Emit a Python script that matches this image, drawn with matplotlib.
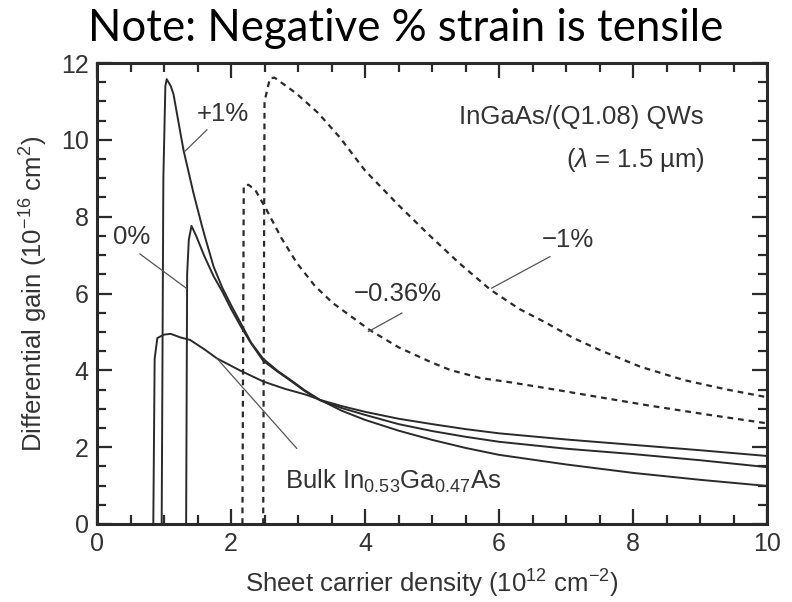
import matplotlib
matplotlib.use('Agg')
import matplotlib.pyplot as plt
from matplotlib.ticker import MultipleLocator

plt.rcParams['font.family'] = ['Liberation Sans', 'DejaVu Sans']
plt.rcParams['mathtext.fontset'] = 'custom'
plt.rcParams['mathtext.rm'] = 'Liberation Sans'
plt.rcParams['mathtext.it'] = 'Liberation Sans:italic'
plt.rcParams['mathtext.default'] = 'regular'

# curves (x: 1e12 cm^-2, y: 1e-16 cm^2)
plus1_x = [0.965, 0.99, 1.02, 1.04, 1.1, 1.14, 1.29, 1.44, 1.56, 1.61, 1.74, 1.87, 2.0, 2.16, 2.3, 2.48, 2.7, 2.88, 3.1, 3.33, 3.65, 4.0, 4.5, 5.0, 5.5, 6.0, 7.0, 8.0, 9.0, 10.0]
plus1_y = [0.0, 9.0, 11.4, 11.58, 11.4, 11.2, 9.74, 8.61, 7.8, 7.48, 6.7, 6.15, 5.7, 5.18, 4.72, 4.3, 3.98, 3.76, 3.48, 3.23, 2.95, 2.71, 2.43, 2.19, 1.98, 1.80, 1.55, 1.33, 1.15, 0.99]

zero_x = [1.33, 1.345, 1.37, 1.41, 1.48, 1.6, 1.74, 1.87, 2.0, 2.16, 2.3, 2.48, 2.7, 2.88, 3.1, 3.33, 3.65, 4.0, 4.5, 5.0, 5.5, 6.0, 7.0, 8.0, 9.0, 10.0]
zero_y = [0.0, 6.5, 7.4, 7.76, 7.5, 6.98, 6.45, 6.05, 5.6, 5.1, 4.7, 4.25, 3.96, 3.74, 3.46, 3.22, 3.02, 2.84, 2.6, 2.42, 2.27, 2.14, 1.96, 1.82, 1.66, 1.48]

bulk_x = [0.84, 0.86, 0.9, 1.0, 1.1, 1.24, 1.39, 1.6, 1.79, 2.13, 2.48, 2.8, 3.13, 3.33, 3.65, 4.0, 4.5, 5.0, 5.5, 6.0, 7.0, 8.0, 9.0, 10.0]
bulk_y = [0.0, 4.3, 4.84, 4.93, 4.95, 4.86, 4.79, 4.55, 4.31, 4.0, 3.71, 3.52, 3.36, 3.23, 3.07, 2.92, 2.74, 2.6, 2.47, 2.36, 2.2, 2.06, 1.92, 1.77]

m036_x = [2.17, 2.19, 2.26, 2.36, 2.53, 2.75, 2.98, 3.25, 3.52, 4.07, 4.5, 5.0, 5.27, 5.72, 6.2, 6.76, 7.5, 8.25, 9.1, 10.0]
m036_y = [0.0, 8.8, 8.83, 8.7, 8.18, 7.45, 6.8, 6.2, 5.75, 5.05, 4.6, 4.2, 4.01, 3.8, 3.68, 3.52, 3.3, 3.08, 2.85, 2.62]

m1_x = [2.48, 2.5, 2.58, 2.65, 2.98, 3.3, 3.63, 4.0, 4.5, 4.97, 5.4, 5.87, 6.3, 6.71, 7.1, 7.5, 8.1, 8.75, 9.4, 10.0]
m1_y = [0.0, 11.0, 11.6, 11.62, 11.2, 10.7, 10.05, 9.2, 8.3, 7.5, 6.8, 6.1, 5.6, 5.23, 4.85, 4.53, 4.1, 3.75, 3.5, 3.3]

ink = '#2a2a2a'
txt = '#333333'

fig = plt.figure(figsize=(7.92, 6.02), dpi=100)
ax = fig.add_axes([0.1225, 0.1296, 0.846, 0.7657])

for xs, ys in [(plus1_x, plus1_y), (zero_x, zero_y), (bulk_x, bulk_y)]:
    ax.plot(xs, ys, color=ink, lw=1.4)
for xs, ys in [(m036_x, m036_y), (m1_x, m1_y)]:
    ax.plot(xs, ys, color=ink, lw=1.6, linestyle=(0, (2.6, 2.2)))

# labels with leader lines
fs = 18.5
lead = dict(color='#555555', lw=0.9)
ax.plot([1.64, 1.31], [10.26, 9.70], **lead)
ax.text(1.88, 10.68, '+1%', fontsize=fs, color=txt, ha='center', va='center')
ax.plot([0.64, 1.33], [7.03, 6.14], **lead)
ax.text(0.52, 7.47, '0%', fontsize=fs, color=txt, ha='center', va='center')
ax.plot([4.55, 4.05], [5.49, 5.01], **lead)
ax.text(4.49, 6.0, '\u22120.36%', fontsize=fs, color=txt, ha='center', va='center')
ax.plot([6.76, 5.89], [6.96, 6.14], **lead)
ax.text(7.03, 7.40, '\u22121%', fontsize=fs, color=txt, ha='center', va='center')
ax.plot([2.98, 1.79], [1.97, 4.31], **lead)
ax.text(2.81, 1.1, r'Bulk In$_{0.53}$Ga$_{0.47}$As', fontsize=fs, color=txt, ha='left', va='center')

ax.text(9.05, 10.6, 'InGaAs/(Q1.08) QWs', fontsize=fs, color=txt, ha='right', va='center')
ax.text(9.07, 9.48, '($\\mathit{\\lambda}$ = 1.5 \u00b5m)', fontsize=fs, color=txt, ha='right', va='center')

ax.set_xlim(0, 10)
ax.set_ylim(0, 12)
ax.xaxis.set_major_locator(MultipleLocator(2))
ax.xaxis.set_minor_locator(MultipleLocator(0.5))
ax.yaxis.set_major_locator(MultipleLocator(2))
ax.yaxis.set_minor_locator(MultipleLocator(0.5))
ax.tick_params(which='both', direction='in', top=True, right=True, width=1.6, color=ink)
ax.tick_params(which='major', length=11, labelsize=18, labelcolor=txt, pad=6)
ax.tick_params(which='minor', length=6.5)
for s in ax.spines.values():
    s.set_linewidth(2.2)
    s.set_color(ink)

ax.set_xlabel('Sheet carrier density (10$^{12}$ cm$^{\u22122}$)', fontsize=fs, color=txt, labelpad=8)
ax.set_ylabel('Differential gain (10$^{\u221216}$ cm$^{2}$)', fontsize=fs, color=txt, labelpad=8)

fig.text(0.512, 0.953, 'Note: Negative % strain is tensile', fontsize=31.5, family='Lato', ha='center', va='center', color='black')

fig.savefig('out.png', dpi=100)
